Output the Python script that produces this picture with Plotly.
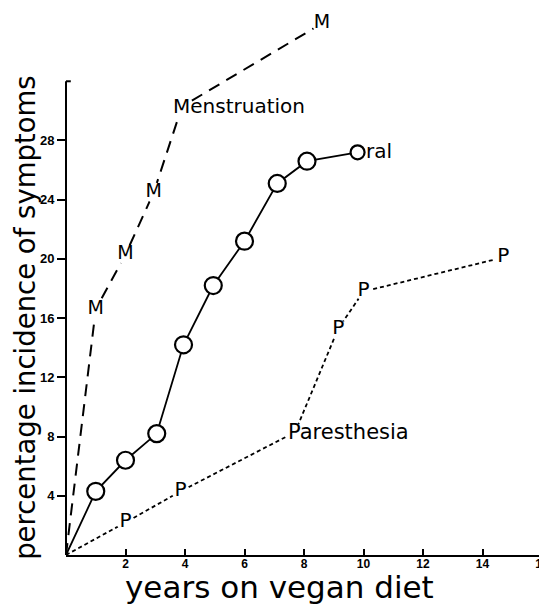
import plotly.graph_objects as go

# Data
mens_x = [0, 1.0, 2.0, 2.95, 3.9, 8.6]
mens_y = [0, 16.6, 20.3, 24.5, 30.3, 35.9]
mens_txt = ["", "M", "M", "M", "", "M"]

oral_x = [0, 1.0, 2.0, 3.05, 3.95, 4.95, 6.0, 7.1, 8.1, 9.8]
oral_y = [0, 4.3, 6.4, 8.2, 14.2, 18.2, 21.2, 25.1, 26.6, 27.2]

par_x = [0, 2.0, 3.85, 7.7, 9.15, 10.0, 14.7]
par_y = [0, 2.2, 4.3, 8.3, 15.3, 17.8, 20.1]
par_txt = ["", "P", "P", "", "P", "P", "P"]

x_ticks = [2, 4, 6, 8, 10, 12, 14, 16]
y_ticks = [4, 8, 12, 16, 20, 24, 28]
y_axis_top = 32

FONT = "DejaVu Sans"
INK = "black"

fig = go.Figure()

# Menstruation
fig.add_trace(go.Scatter(
    x=mens_x, y=mens_y, mode="lines+markers+text", text=mens_txt,
    textposition="middle center", textfont=dict(family=FONT, size=19, color=INK),
    line=dict(color=INK, width=2, dash="12px,8px"),
    marker=dict(color="white", opacity=1, size=[0] + [20] * (len(mens_x) - 1), line=dict(width=0)),
    showlegend=False, cliponaxis=False))

# Oral
fig.add_trace(go.Scatter(
    x=oral_x, y=oral_y, mode="lines+markers",
    line=dict(color=INK, width=1.8),
    marker=dict(color="white", opacity=1, symbol="circle",
                size=[0] + [17] * (len(oral_x) - 2) + [14],
                line=dict(color=INK, width=[0] + [2.2] * (len(oral_x) - 1))),
    showlegend=False, cliponaxis=False))

# Paresthesia
fig.add_trace(go.Scatter(
    x=par_x, y=par_y, mode="lines+markers+text", text=par_txt,
    textposition="middle center", textfont=dict(family=FONT, size=20, color=INK),
    line=dict(color=INK, width=1.8, dash="4px,3px"),
    marker=dict(color="white", opacity=1, size=[0] + [18] * (len(par_x) - 1), line=dict(width=0)),
    showlegend=False, cliponaxis=False))

fig.add_annotation(x=mens_x[4], y=mens_y[4], text="Menstruation", showarrow=False,
                   xanchor="left", yanchor="middle", xshift=-11,
                   font=dict(family=FONT, size=20, color=INK))
fig.add_annotation(x=oral_x[-1], y=oral_y[-1], text="ral", showarrow=False,
                   xanchor="left", yanchor="middle", xshift=6, yshift=1,
                   font=dict(family=FONT, size=20, color=INK))
fig.add_annotation(x=par_x[3], y=par_y[3], text="Paresthesia", showarrow=False,
                   xanchor="left", yanchor="middle", xshift=-9,
                   font=dict(family=FONT, size=21, color=INK))

# axis titles
fig.add_annotation(xref="paper", yref="paper", x=-0.086, y=0.435, text="percentage incidence of symptoms",
                   textangle=-90, showarrow=False, xanchor="center", yanchor="middle",
                   font=dict(family=FONT, size=27.5, color=INK))
fig.add_annotation(xref="paper", yref="paper", x=0.445, y=0, yshift=-32, text="years on vegan diet",
                   showarrow=False, xanchor="center", yanchor="middle",
                   font=dict(family=FONT, size=31, color=INK))

# y axis line (stops at 32) with small cap
fig.add_shape(type="line", xref="paper", yref="y", x0=0, x1=0, y0=0, y1=y_axis_top,
              line=dict(color=INK, width=2))
fig.add_shape(type="line", xref="paper", yref="y", x0=0, x1=0.01, y0=y_axis_top, y1=y_axis_top,
              line=dict(color=INK, width=2))

fig.update_layout(
    width=547, height=604, margin=dict(l=58, r=10, t=0, b=57),
    paper_bgcolor="white", plot_bgcolor="white",
    xaxis=dict(range=[0, 16.1], tickvals=x_ticks, ticktext=[str(v) for v in x_ticks],
               ticks="inside", ticklen=6, tickwidth=1.5, tickcolor=INK, automargin=False,
               ticklabelstandoff=-3,
               showline=True, linecolor=INK, linewidth=2, showgrid=False, zeroline=False,
               tickfont=dict(family="Liberation Sans", size=12, color=INK, weight="bold")),
    yaxis=dict(range=[0, 36.95], tickvals=y_ticks, ticktext=[str(v) for v in y_ticks],
               ticks="outside", ticklen=8, tickwidth=1.5, tickcolor=INK, automargin=False,
               showline=False, showgrid=False, zeroline=False,
               tickfont=dict(family="Liberation Sans", size=13, color=INK, weight="bold")),
)

fig.write_html("out.html")
